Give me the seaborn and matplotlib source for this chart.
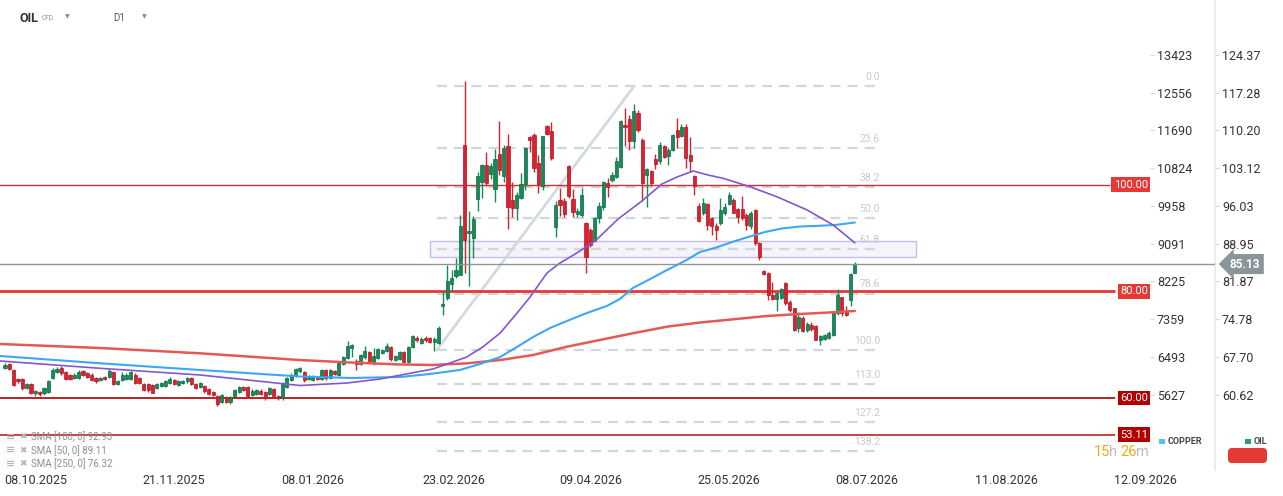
import numpy as np
import matplotlib
matplotlib.use("Agg")
import matplotlib.pyplot as plt
import seaborn as sns
from matplotlib.patches import Rectangle, FancyBboxPatch
from matplotlib.transforms import blended_transform_factory

# ---------------- data ----------------
opens = [65.6, 66.4, 65.3, 63.5, 63.5, 61.9, 62.6, 60.9, 61.1, 60.9,
         61.1, 63.7, 64.8, 65.6, 64.8, 64.3, 63.7, 63.8, 65.1, 64.6,
         64.4, 63.7, 63.3, 64.0, 64.0, 64.9, 62.6, 63.4, 63.6, 63.6,
         64.4, 63.8, 62.6, 62.6, 62.4, 61.9, 62.3, 62.3, 62.8, 63.4,
         62.4, 62.8, 63.1, 63.8, 62.6, 62.1, 62.3, 61.6, 61.1, 60.4,
         59.3, 60.1, 59.2, 60.4, 61.1, 62.0, 62.0, 60.6, 60.8, 61.4,
         61.1, 60.7, 61.7, 60.4, 59.9, 62.1, 63.4, 64.1, 65.0, 64.8,
         63.5, 63.4, 64.0, 63.5, 65.3, 63.7, 65.1, 64.3, 66.4, 67.5,
         69.3, 67.0, 66.4, 67.6, 68.7, 66.8, 67.5, 68.4, 68.9, 69.6,
         67.1, 67.3, 68.7, 66.7, 69.5, 71.3, 70.3, 71.3, 71.3, 70.5,
         70.3, 77.2, 78.7, 81.4, 82.9, 83.1, 107.5, 90.9, 90.0, 97.3,
         100.6, 103.7, 102.0, 99.2, 105.8, 101.6, 107.3, 97.1, 95.6, 97.6,
         100.1, 108.9, 109.4, 104.1, 99.7, 111.0, 110.1, 92.1, 97.1, 96.9,
         103.5, 97.3, 94.5, 94.4, 92.8, 91.5, 89.5, 93.7, 95.8, 100.4,
         100.9, 101.5, 103.4, 111.2, 112.4, 108.3, 113.4, 108.4, 101.9, 102.6,
         104.9, 104.4, 107.2, 105.5, 106.5, 110.3, 109.2, 110.9, 105.6, 101.6,
         96.0, 94.7, 96.4, 93.7, 92.3, 92.8, 94.7, 96.4, 97.2, 95.4,
         95.5, 94.3, 92.2, 95.3, 89.0, 83.9, 83.5, 79.3, 78.5, 78.7,
         81.5, 78.1, 76.8, 73.1, 75.1, 72.7, 73.6, 73.5, 70.8, 71.1,
         71.3, 71.8, 75.9, 78.9, 76.2, 78.3, 83.5]

highs = [66.5, 66.6, 65.4, 63.8, 63.7, 62.8, 62.8, 61.5, 61.3, 62.0,
         63.4, 65.6, 65.8, 66.0, 65.0, 64.5, 64.6, 65.2, 65.3, 64.8,
         64.6, 63.9, 64.0, 64.2, 65.4, 65.1, 63.3, 64.8, 64.6, 65.1,
         64.6, 64.0, 62.8, 62.8, 62.6, 62.8, 63.0, 63.3, 64.0, 63.6,
         63.3, 63.3, 64.0, 64.0, 62.8, 63.0, 62.5, 61.8, 61.3, 60.6,
         60.8, 60.3, 60.3, 61.7, 62.2, 62.2, 62.2, 61.6, 61.7, 61.6,
         61.3, 62.0, 61.9, 60.6, 63.0, 64.0, 64.6, 65.6, 65.9, 65.0,
         64.4, 64.3, 64.2, 65.5, 65.5, 65.5, 65.3, 66.9, 67.8, 70.7,
         70.2, 67.3, 68.3, 69.7, 68.9, 69.3, 69.4, 69.2, 70.4, 69.8,
         68.0, 68.9, 68.9, 69.8, 71.8, 71.6, 71.4, 71.6, 71.5, 71.5,
         73.5, 80.0, 84.9, 84.1, 86.2, 94.4, 119.4, 95.0, 94.1, 102.5,
         104.0, 106.1, 104.1, 106.7, 112.0, 107.4, 109.5, 100.5, 98.7, 102.2,
         107.1, 109.2, 109.7, 105.6, 109.2, 111.3, 111.7, 97.0, 99.4, 97.5,
         103.7, 99.2, 95.6, 99.4, 93.1, 91.9, 94.0, 96.7, 100.7, 101.2,
         102.5, 105.3, 112.2, 114.5, 113.1, 115.1, 114.0, 108.7, 103.1, 102.8,
         105.7, 108.1, 107.5, 106.9, 109.5, 112.5, 111.5, 111.4, 109.0, 101.9,
         96.5, 97.5, 96.5, 94.0, 92.8, 97.5, 96.5, 98.7, 97.5, 95.6,
         97.9, 94.7, 95.0, 95.4, 89.3, 84.0, 83.7, 81.8, 79.8, 80.6,
         81.7, 78.3, 76.9, 76.2, 75.3, 74.3, 74.3, 73.7, 71.9, 72.0,
         72.5, 76.2, 80.4, 79.0, 77.2, 83.4, 85.6]

lows = [65.4, 65.3, 62.3, 62.9, 61.5, 61.7, 60.8, 60.3, 60.3, 60.6,
        60.9, 63.5, 64.6, 64.4, 63.4, 63.3, 63.5, 63.6, 64.2, 63.8,
        63.1, 62.8, 63.1, 63.3, 63.8, 62.4, 62.4, 63.2, 63.4, 63.4,
        62.6, 62.7, 61.3, 61.2, 60.9, 61.7, 62.1, 62.1, 62.6, 62.4,
        62.2, 62.6, 62.9, 62.4, 61.6, 61.9, 61.0, 60.5, 60.4, 58.5,
        59.1, 59.0, 58.9, 60.2, 60.9, 61.3, 60.1, 60.4, 60.6, 60.6,
        59.7, 60.5, 60.1, 59.7, 59.7, 61.9, 63.2, 63.9, 64.7, 63.0,
        63.3, 63.2, 63.3, 63.3, 63.4, 63.5, 64.3, 64.1, 66.2, 67.3,
        67.6, 65.3, 66.1, 67.4, 66.8, 66.2, 67.3, 68.2, 68.7, 67.0,
        66.9, 67.1, 66.6, 66.5, 69.3, 70.5, 70.1, 70.5, 70.3, 68.9,
        70.1, 75.6, 78.3, 80.0, 82.5, 83.0, 83.4, 81.1, 86.2, 95.1,
        97.6, 99.7, 101.1, 96.7, 101.9, 100.5, 91.7, 93.9, 93.4, 97.4,
        99.1, 106.1, 102.5, 98.4, 99.1, 109.4, 104.6, 90.3, 94.2, 94.0,
        97.5, 94.0, 93.9, 94.0, 83.4, 88.4, 89.4, 92.9, 95.3, 97.8,
        100.5, 101.2, 103.2, 107.2, 106.5, 106.9, 110.0, 96.9, 95.9, 99.7,
        103.0, 104.0, 105.0, 103.7, 106.4, 107.0, 109.0, 103.2, 102.5, 98.0,
        93.1, 94.4, 91.5, 90.6, 89.7, 92.5, 94.3, 96.2, 94.7, 92.8,
        93.4, 91.5, 91.8, 88.7, 85.8, 83.1, 78.4, 78.4, 76.4, 78.5,
        77.5, 76.2, 72.5, 72.3, 72.3, 72.3, 72.5, 70.8, 70.0, 70.9,
        71.0, 71.7, 75.6, 75.4, 75.3, 77.2, 83.4]

closes = [66.2, 65.4, 62.4, 63.1, 61.8, 62.6, 60.9, 61.3, 60.8, 61.8,
          63.2, 65.3, 65.4, 64.6, 63.6, 63.6, 64.4, 64.8, 64.4, 64.0,
          63.4, 63.1, 63.8, 63.5, 65.1, 62.6, 63.1, 64.4, 64.3, 64.8,
          62.9, 62.9, 61.5, 61.5, 61.0, 62.6, 62.9, 63.1, 63.6, 62.6,
          63.1, 63.1, 63.7, 62.6, 61.8, 62.8, 61.3, 60.7, 60.6, 58.8,
          60.6, 59.2, 60.1, 61.5, 62.0, 61.5, 60.3, 61.4, 61.5, 60.8,
          59.9, 61.8, 60.3, 59.9, 62.8, 63.8, 64.3, 65.4, 65.6, 63.4,
          64.1, 64.1, 63.5, 65.3, 63.7, 65.3, 64.5, 66.7, 67.6, 69.8,
          70.0, 66.4, 68.1, 68.8, 67.0, 67.9, 69.1, 69.0, 69.8, 67.3,
          67.8, 68.7, 66.8, 69.6, 71.6, 70.8, 71.1, 70.8, 70.5, 71.1,
          73.2, 77.6, 82.0, 82.6, 84.1, 92.3, 89.6, 91.4, 93.6, 101.7,
          103.7, 100.3, 103.6, 104.8, 102.7, 107.0, 95.8, 95.6, 98.1, 100.1,
          106.9, 108.4, 103.1, 100.1, 109.1, 109.5, 105.1, 96.3, 96.3, 94.5,
          97.9, 94.9, 95.0, 98.1, 86.4, 88.7, 93.7, 96.1, 100.5, 99.5,
          101.9, 104.4, 112.0, 110.8, 108.3, 113.9, 110.2, 100.3, 102.9, 100.4,
          104.0, 107.5, 105.3, 106.5, 109.4, 108.9, 110.9, 105.1, 104.5, 99.8,
          93.3, 96.5, 92.5, 92.2, 91.5, 95.3, 95.9, 98.1, 94.8, 94.0,
          93.7, 92.5, 94.7, 89.0, 86.4, 83.2, 79.3, 78.6, 79.7, 80.4,
          77.8, 76.5, 72.8, 75.2, 72.6, 73.8, 73.0, 70.9, 71.7, 71.8,
          72.2, 76.0, 79.3, 75.9, 75.6, 83.2, 85.13]

# moving averages, read at points along each line (bar index, price)
sma100_idx = [-1.2, 21.9, 45.0, 68.0, 79.6, 91.1, 98.0, 104.9, 109.5, 114.2,
              118.1, 121.8, 125.7, 129.6, 134.2, 138.8, 141.8, 144.8, 148.8, 152.7,
              156.8, 160.3, 163.7, 167.7, 171.4, 175.3, 179.2, 183.3, 186.8, 191.4, 196.0]
sma100_val = [67.88, 66.51, 65.25, 64.03, 63.75, 63.93, 64.50, 65.25, 66.37, 67.69,
              69.57, 71.44, 73.13, 74.45, 75.95, 77.26, 78.57, 80.64, 82.33, 84.02,
              85.71, 87.40, 88.15, 89.27, 90.21, 91.15, 91.81, 92.18, 92.28, 92.46, 92.93]
sma50_idx = [-1.2, 21.9, 45.0, 68.0, 78.9, 86.5, 94.1, 98.7, 102.6, 106.5,
             110.2, 114.2, 118.1, 121.1, 125.0, 128.0, 131.5, 136.1, 141.4, 146.9,
             151.5, 155.0, 158.7, 162.1, 165.6, 171.8, 178.0, 185.0, 191.0, 196.0]
sma50_val = [66.94, 65.57, 64.31, 62.34, 62.81, 63.56, 64.74, 65.44, 66.56, 67.69,
             69.57, 72.19, 75.95, 78.95, 83.46, 85.33, 87.02, 89.46, 93.59, 96.97,
             100.16, 101.47, 102.60, 101.85, 101.23, 99.65, 97.77, 95.28, 92.46, 89.11]
sma250_idx = [-1.2, 21.9, 45.0, 68.0, 79.6, 91.1, 98.7, 106.5, 114.2, 121.8,
              129.6, 137.2, 144.8, 152.7, 160.3, 167.9, 175.7, 183.3, 191.0, 196.0]
sma250_val = [70.13, 69.38, 68.38, 67.12, 66.66, 66.28, 66.19, 66.50, 67.12, 68.06,
              69.62, 70.88, 72.14, 73.38, 74.16, 74.76, 75.38, 75.76, 76.08, 76.32]
sma_legend = ["SMA [100, 0] 92.93", "SMA [50, 0] 89.11", "SMA [250, 0] 76.32"]

# fibonacci retracement
fib_ratios = [0.0, 23.6, 38.2, 50.0, 61.8, 78.6, 100.0, 113.0, 127.2, 138.2]
fib_high = 118.55
fib_low = 69.0
fib_start, fib_end = 99.6, 201.1
trend_start, trend_end = 99.6, 145.1

# horizontal levels
levels = [100.00, 80.00, 60.00, 53.11]
level_labels = ["100.00", "80.00", "60.00", "53.11"]
last_price = 85.13
zone_low, zone_high = 86.46, 89.46

# axes ticks
date_pos = [7, 39, 71, 103.5, 135, 167, 198.7, 231, 263]
date_labels = ["08.10.2025", "21.11.2025", "08.01.2026", "23.02.2026", "09.04.2026",
               "25.05.2026", "08.07.2026", "11.08.2026", "12.09.2026"]
oil_ticks = [124.37, 117.28, 110.20, 103.12, 96.03, 88.95, 81.87, 74.78, 67.70, 60.62]
copper_ticks = [13423, 12556, 11690, 10824, 9958, 9091, 8225, 7359, 6493, 5627]

# ---------------- figure ----------------
sns.set_theme(style="white")
plt.rcParams['font.family'] = ['Roboto', 'DejaVu Sans']

W, H = 1283, 496
fig = plt.figure(figsize=(W / 100, H / 100), dpi=100)
ax = fig.add_axes([0, 26 / H, 1215 / W, 470 / H])
ax.set_facecolor("white")
ax.set_xlim(-1.153, 279.06)
ax.set_ylim(46.48, 134.69)


def px_x(x):
    return (x - 5) / 4.336


GREEN, GREEN_E = "#178a5a", "#0f6a43"
RED, RED_E = "#d9222f", "#b3141f"

# zone rectangle
ax.add_patch(Rectangle((98.0, zone_low), 112.1, zone_high - zone_low,
                       facecolor="#f5f3fc", edgecolor="#c8bde8", lw=1.0, zorder=1))

# fib lines
for r in fib_ratios:
    lv = fib_high - r / 100.0 * (fib_high - fib_low)
    ax.hlines(lv, fib_start, fib_end, colors="#cfd7db", lw=1.6,
              linestyles=(0, (4.5, 3.2)), zorder=2)
    ax.annotate(f"{r:.1f}", xy=(px_x(880), lv), xytext=(0, 3), textcoords="offset points",
                ha="right", va="bottom", fontsize=7.5, color="#c4cbd0", zorder=2)
ax.plot([trend_start, trend_end], [fib_low, fib_high], color="#d3dadd", lw=2, zorder=2)

# horizontal lines
ax.hlines(levels[0], -2, px_x(1110), colors="#d32f2f", lw=1.0, zorder=2)
ax.hlines(levels[1], -2, px_x(1115), colors="#e53935", lw=2.0, zorder=2)
ax.hlines(levels[2], -2, px_x(1115), colors="#b71010", lw=1.3, zorder=2)
ax.hlines(levels[3], -2, px_x(1115), colors="#b71010", lw=1.1, zorder=2)
ax.hlines(last_price, -2, 280, colors="#8c969a", lw=1.0, zorder=6)

# candles
o = np.array(opens); h = np.array(highs); l = np.array(lows); c = np.array(closes)
idx = np.arange(len(o))
up = c >= o
col = np.where(up, GREEN, RED)
ecol = np.where(up, GREEN_E, RED_E)
ax.vlines(idx, l, h, colors=col, lw=1.0, zorder=3)
ax.bar(idx, np.maximum(np.abs(c - o), 0.18), bottom=np.minimum(o, c), width=0.72,
       color=col, edgecolor=ecol, linewidth=0.5, zorder=4)

# moving averages
sns.lineplot(x=sma250_idx, y=sma250_val, ax=ax, color="#e25a56", lw=1.8, zorder=5)
sns.lineplot(x=sma100_idx, y=sma100_val, ax=ax, color="#3ea6f2", lw=1.5, zorder=5)
sns.lineplot(x=sma50_idx, y=sma50_val, ax=ax, color="#8557cc", lw=1.2, zorder=5)

# axes styling
for s in ax.spines.values():
    s.set_visible(False)
ax.spines["right"].set_visible(True)
ax.spines["right"].set_color("#e8e8e8")
ax.grid(False)
ax.set_xticks(date_pos, date_labels)
ax.tick_params(axis="x", bottom=True, length=0, pad=3, labelsize=9, labelcolor="#333333")
ax.yaxis.tick_right()
ax.set_yticks(oil_ticks, [f"{v:.2f}" for v in oil_ticks])
ax.tick_params(axis="y", right=True, left=False, length=3, width=0.8, color="#d8d8d8",
               pad=2, labelsize=9, labelcolor="#333333")

cu_a = (copper_ticks[0] - copper_ticks[-1]) / (oil_ticks[0] - oil_ticks[-1])
cu_b = copper_ticks[0] - cu_a * oil_ticks[0]
sec = ax.secondary_yaxis(1150 / 1215, functions=(lambda v: cu_a * v + cu_b,
                                                   lambda v: (v - cu_b) / cu_a))
sec.set_yticks(copper_ticks, [str(v) for v in copper_ticks])
sec.tick_params(axis="y", length=3, width=0.8, color="#d8d8d8", pad=2,
                labelsize=9, labelcolor="#333333")
for s in sec.spines.values():
    s.set_visible(False)

# level labels
bt = blended_transform_factory(fig.transFigure, ax.transData)
lab_colors = ["#e53935", "#e53935", "#b00000", "#b00000"]
for lv, txt, bc in zip(levels, level_labels, lab_colors):
    fig.text(1148 / W, lv, txt, transform=bt, ha="right", va="center", fontsize=8,
             color="white", bbox=dict(boxstyle="square,pad=0.22", fc=bc, ec="none"), zorder=10)
fig.text(1245 / W, last_price, f"{last_price:.2f}", transform=bt, ha="center", va="center",
         fontsize=8.5, color="white", weight="bold",
         bbox=dict(boxstyle="larrow,pad=0.3", fc="#8a959a", ec="none"), zorder=10)


def ftext(x, y, s, **kw):
    return fig.text(x / W, 1 - y / H, s, **kw)


# header
ftext(20, 18, "OIL", fontsize=9, weight="bold", color="#333333", va="center")
ftext(42, 19, "CFD", fontsize=4.8, color="#8a8a8a", va="center")
ftext(65, 17, "▼", fontsize=4.5, color="#8a8a8a", va="center")
ftext(113, 18, "D1", fontsize=7, color="#555555", va="center")
ftext(142, 17, "▼", fontsize=4.5, color="#8a8a8a", va="center")

# SMA legend
for k, t in enumerate(sma_legend):
    yy = 436.5 + 13.8 * k
    ftext(6, yy, "≡", fontsize=8, color="#b5b5b5", va="center", weight="bold")
    ftext(19, yy, "✖", fontsize=6.5, color="#b5b5b5", va="center",
          family=["DejaVu Sans"])
    ftext(31, yy, t, fontsize=7, color="#8e8e8e", va="center")

# countdown
ftext(1094, 452, "15", fontsize=10.5, color="#f5a623", va="center")
ftext(1109, 452, "h", fontsize=10.5, color="#bdbdbd", va="center")
ftext(1120, 452, "26", fontsize=10.5, color="#f5a623", va="center")
ftext(1136, 452, "m", fontsize=10.5, color="#bdbdbd", va="center")

# instrument legend
fig.patches.append(Rectangle((1159 / W, 1 - 444 / H), 5.5 / W, 5.5 / H,
                             transform=fig.transFigure, fc="#4fc3f7", ec="none"))
ftext(1168, 441, "COPPER", fontsize=6.5, color="#444444", va="center", weight="bold")
fig.patches.append(Rectangle((1245 / W, 1 - 444 / H), 5.5 / W, 5.5 / H,
                             transform=fig.transFigure, fc="#26a269", ec="none"))
ftext(1254, 441, "OIL", fontsize=6.5, color="#444444", va="center", weight="bold")
fig.patches.append(FancyBboxPatch((12.28, (496 - 463) / 100), 0.39, 0.15,
                                  boxstyle="round,pad=0,rounding_size=0.04",
                                  transform=fig.dpi_scale_trans, fc="#e53935", ec="none"))

fig.savefig("out.png", dpi=100)
